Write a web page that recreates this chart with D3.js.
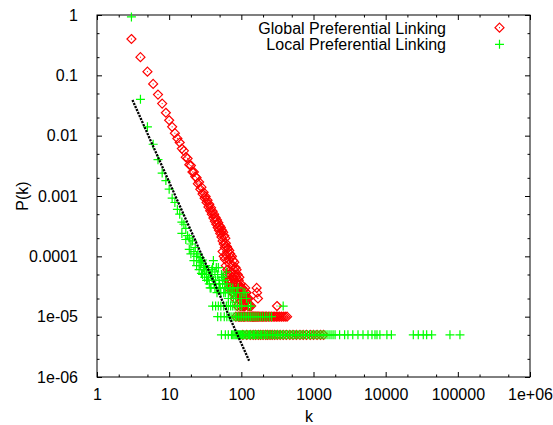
<!DOCTYPE html>
<html>
<head>
<meta charset="utf-8">
<script src="https://cdn.jsdelivr.net/npm/d3@7"></script>
<style>
body { margin: 0; background: #fff; }
text { font-family: "Liberation Sans", Arial, Helvetica, sans-serif; font-size: 16px; fill: #000; }
</style>
</head>
<body>
<script>
// axis ticks
const xMajor = [1, 10, 100, 1000, 10000, 100000, 1000000];
const xLabels = ["1", "10", "100", "1000", "10000", "100000", "1e+06"];
const xMinor = [2, 5, 20, 50, 200, 500, 2000, 5000, 20000, 50000, 200000, 500000];
const yMajor = [1, 0.1, 0.01, 0.001, 0.0001, 0.00001, 0.000001];
const yLabels = ["1", "0.1", "0.01", "0.001", "0.0001", "1e-05", "1e-06"];
const yMinor = [0.5, 0.2, 0.05, 0.02, 0.005, 0.002, 0.0005, 0.0002, 0.00005, 0.00002, 0.000005, 0.000002];

const seriesNames = ["Global Preferential Linking", "Local Preferential Linking"];

// Global Preferential Linking: [k, P(k)]
const globalPoints = [
    [3, 0.40], [4, 0.20], [5, 0.115], [6, 0.072], [7, 0.048], [8, 0.034], [9, 0.024], [10, 0.018],
    [11, 0.014], [12, 0.011], [13, 0.0090], [14, 0.0077], [15, 0.0061], [16, 0.0056], [17, 0.0044],
    [18, 0.0042], [19, 0.0033], [20, 0.0032], [21, 0.0025], [22, 0.0025], [23, 0.0021], [24, 0.0020],
    [25, 0.0016], [26, 0.0017], [27, 0.0013], [28, 0.0014], [29, 0.00108], [30, 0.00115], [31, 0.00092],
    [32, 0.00098], [33, 0.00078], [34, 0.00085], [35, 0.00066], [36, 0.00073], [37, 0.00057], [38, 0.00064],
    [39, 0.00050], [40, 0.00056], [41, 0.00043], [42, 0.00050], [43, 0.00038], [44, 0.00044], [45, 0.00034],
    [46, 0.00040], [47, 0.00030], [48, 0.00036], [49, 0.00027], [50, 0.00032], [51, 0.00024], [52, 0.00030],
    [53, 0.00021], [54, 0.00027], [55, 0.00018], [56, 0.00025], [57, 0.00016], [58, 0.00022], [59, 0.00014],
    [60, 0.00020], [61, 0.000165], [62, 0.000105], [63, 0.000145], [64, 0.00006], [65, 0.000135], [66, 0.00009],
    [67, 0.00004], [68, 0.000125], [69, 0.000075], [70, 0.00011], [71, 0.00003], [72, 0.000095], [73, 0.000055],
    [74, 0.0001], [75, 0.000025], [76, 0.00007], [77, 0.000085], [78, 0.000035], [79, 0.00006], [80, 0.00008],
    [81, 0.00002], [82, 0.00005], [83, 0.000065], [84, 0.00001], [85, 0.000045], [86, 0.00006], [87, 0.000025],
    [88, 0.000015], [89, 0.00005], [90, 0.000035], [91, 0.00001], [92, 0.00004], [93, 0.00002], [94, 0.000045],
    [95, 0.00001], [96, 0.00003], [97, 0.000015], [98, 0.000035], [99, 0.00001], [100, 0.000025], [101, 0.00002],
    [102, 0.00001], [103, 0.00003], [104, 0.000015], [105, 0.000005], [106, 0.00002], [107, 0.00001], [108, 0.000025],
    [109, 0.000015], [110, 0.00001], [112, 0.000015], [113, 0.00003], [115, 0.00002], [118, 0.000025], [121, 0.00002],
    [124, 0.000015], [126, 0.00002], [131, 0.000015], [137, 0.000015], [163, 0.00003], [165, 0.000025],
    [170, 0.00002], [312, 0.000015],
    // second cloud of readings, lower edge of the red band
    [55, 0.00012], [57, 0.0001], [59, 0.00009], [61, 0.00007], [63, 0.00005], [65, 0.00004], [66, 0.00003],
    [68, 0.00005], [70, 0.000035], [72, 0.00004], [74, 0.00003], [76, 0.000045], [78, 0.000025], [80, 0.00004],
    [83, 0.00003], [86, 0.000035], [90, 0.000025], [93, 0.00003], [97, 0.000025], [100, 0.00003], [104, 0.00002],
    [110, 0.00002], [116, 0.000025]
];
// Global: degrees seen only once or twice
const globalRow10K = [116, 123, 128, 134, 140, 143, 147, 151, 156, 161, 167, 174, 181, 188, 196, 205, 214, 224,
    236, 249, 262, 276, 291, 306, 322, 340, 360, 382, 405, 430];
const globalRow5K = [119, 133, 146, 158, 172, 185, 200, 218, 232, 250, 268, 290, 315, 345, 380, 420, 470, 520,
    580, 650, 720, 800, 900, 1000, 1120, 1250, 1380];

// Local Preferential Linking: [k, P(k)]
const localPoints = [
    [3, 0.93], [4, 0.040], [5, 0.014], [6, 0.0072], [7, 0.0040], [8, 0.0024], [9, 0.0018], [10, 0.0013],
    [11, 0.00092], [12, 0.00078], [13, 0.00060], [14, 0.00050], [15, 0.00037], [15, 0.00024], [16, 0.00034],
    [17, 0.00029], [17, 0.00019], [18, 0.00022], [19, 0.00020], [19, 0.00013], [20, 0.00016], [20, 0.00011],
    [21, 0.00018], [22, 0.00012], [22, 0.000085], [23, 0.00014], [24, 0.00010], [24, 0.00007], [25, 0.00011],
    [26, 0.000085], [26, 0.00006], [27, 0.000095], [28, 0.000052], [28, 0.00008], [29, 0.000087], [30, 0.000065],
    [31, 0.000045], [32, 0.00007], [33, 0.000055], [34, 0.00004], [35, 0.00006], [36, 0.000035], [37, 0.00005],
    [38, 0.00003], [39, 0.000045], [40, 0.000065], [41, 0.000085], [42, 0.000035], [43, 0.00003], [44, 0.00004],
    [45, 0.000065], [46, 0.000025], [48, 0.000065], [49, 0.00003], [50, 0.000035], [52, 0.000025], [54, 0.000045],
    [56, 0.000045], [57, 0.000025], [59, 0.00003], [62, 0.000055], [63, 0.000035], [66, 0.00002], [70, 0.00003],
    [74, 0.000025], [78, 0.00002], [86, 0.000025], [95, 0.00002], [106, 0.000025], [112, 0.000025],
    [27, 0.00007], [29, 0.00005], [31, 0.00006], [33, 0.00004], [35, 0.000045], [37, 0.00003], [39, 0.00006],
    [41, 0.00004], [43, 0.000055], [45, 0.00003], [47, 0.00005], [49, 0.00004], [51, 0.00003], [53, 0.00005],
    [55, 0.000035], [58, 0.00004], [60, 0.000025], [64, 0.00003], [67, 0.000025], [72, 0.00002], [76, 0.00003],
    [80, 0.000025], [84, 0.00002], [90, 0.00003], [100, 0.00002], [118, 0.00002], [125, 0.000015], [135, 0.000015]
];
const localRow15K = [40, 44, 48, 52, 57, 62, 66, 71, 76, 82, 88, 95, 101, 380];
const localRow10K = [47, 52, 58, 63, 68, 72, 77, 82, 86, 91, 96, 101, 107, 113, 119, 126, 133, 141, 150, 160,
    171, 183, 196, 210, 226, 244, 262];
const localRow5K = [53, 60, 66, 73, 76, 79, 82, 85, 88, 91, 94, 97, 100, 104, 108, 112, 116, 120, 125, 130, 135,
    141, 147, 153, 160, 167, 175, 183, 191, 200, 210, 220, 231, 243, 256, 270, 285, 300, 316, 333, 351, 370, 390,
    412, 435, 460, 487, 515, 545, 578, 612, 650, 690, 732, 778, 826, 878, 933, 992, 1055, 1122, 1195, 1272, 1355,
    1445, 1540, 1642, 1750, 1866, 1990, 2300, 2700, 3000, 3500, 4130, 4850, 5690, 6460, 7110, 7580, 8320, 10400,
    12000, 24150, 28300, 33200, 37000, 43400, 77800, 107000];
const rowLevels = [0.000015, 0.00001, 0.000005];

// power law guide line (ends)
const fitK = [3.1, 128];
const fitP = [0.039, 0.00000186];

const w = 553, h = 425;
const padL = 97, padR = 530, padT = 15, padB = 377;

const svg = d3.select("body").append("svg")
    .attr("width", w)
    .attr("height", h);

const xScale = d3.scaleLog().domain([1, 1e6]).range([padL, padR]);
const yScale = d3.scaleLog().domain([1e-6, 1]).range([padB, padT]);

var noDomain = g => g.select(".domain").remove();

// major + minor ticks, mirrored on all four sides
svg.append("g")
    .attr("transform", "translate(0," + padB + ")")
    .call(d3.axisBottom(xScale).tickValues(xMajor).tickFormat((d, i) => xLabels[i])
        .tickSizeInner(-5).tickSizeOuter(0).tickPadding(12))
    .call(noDomain);
svg.append("g")
    .attr("transform", "translate(0," + padB + ")")
    .call(d3.axisBottom(xScale).tickValues(xMinor).tickFormat("").tickSizeInner(-2.5).tickSizeOuter(0))
    .call(noDomain);
svg.append("g")
    .attr("transform", "translate(0," + padT + ")")
    .call(d3.axisTop(xScale).tickValues(xMajor).tickFormat("").tickSizeInner(-5).tickSizeOuter(0))
    .call(noDomain);
svg.append("g")
    .attr("transform", "translate(0," + padT + ")")
    .call(d3.axisTop(xScale).tickValues(xMinor).tickFormat("").tickSizeInner(-2.5).tickSizeOuter(0))
    .call(noDomain);

svg.append("g")
    .attr("transform", "translate(" + padL + ",0)")
    .call(d3.axisLeft(yScale).tickValues(yMajor).tickFormat((d, i) => yLabels[i])
        .tickSizeInner(-5).tickSizeOuter(0).tickPadding(19))
    .call(noDomain);
svg.append("g")
    .attr("transform", "translate(" + padL + ",0)")
    .call(d3.axisLeft(yScale).tickValues(yMinor).tickFormat("").tickSizeInner(-2.5).tickSizeOuter(0))
    .call(noDomain);
svg.append("g")
    .attr("transform", "translate(" + padR + ",0)")
    .call(d3.axisRight(yScale).tickValues(yMajor).tickFormat("").tickSizeInner(-5).tickSizeOuter(0))
    .call(noDomain);
svg.append("g")
    .attr("transform", "translate(" + padR + ",0)")
    .call(d3.axisRight(yScale).tickValues(yMinor).tickFormat("").tickSizeInner(-2.5).tickSizeOuter(0))
    .call(noDomain);

svg.selectAll("g").attr("font-size", null).attr("font-family", null);

svg.append("rect")
    .attr("x", padL).attr("y", padT)
    .attr("width", padR - padL).attr("height", padB - padT)
    .attr("fill", "none").attr("stroke", "#000").attr("stroke-width", 1);

// axis titles
svg.append("text")
    .attr("x", 309).attr("y", 422)
    .attr("text-anchor", "middle")
    .text("k");
svg.append("text")
    .attr("transform", "translate(28,196) rotate(-90)")
    .attr("text-anchor", "middle")
    .text("P(k)");

const diamond = "M0,-4.5L4.5,0L0,4.5L-4.5,0Z";
const plus = "M-4.5,0H4.5M0,-4.5V4.5";

var drawDiamonds = function (g, data) {
    var m = g.selectAll("g.pt").data(data).join("g")
        .attr("class", "pt")
        .attr("transform", d => "translate(" + xScale(d[0]) + "," + yScale(d[1]) + ")");
    m.append("path").attr("d", diamond).attr("fill", "none").attr("stroke", "#ff0000").attr("stroke-width", 1.2);
    m.append("rect").attr("x", -0.5).attr("y", -0.5).attr("width", 1).attr("height", 1).attr("fill", "#ff0000");
}

var drawPluses = function (g, data) {
    g.selectAll("path").data(data).join("path")
        .attr("transform", d => "translate(" + xScale(d[0]) + "," + yScale(d[1]) + ")")
        .attr("d", plus).attr("fill", "none").attr("stroke", "#00ff00").attr("stroke-width", 1.2);
}

var globalAll = globalPoints
    .concat(globalRow10K.map(k => [k, rowLevels[1]]))
    .concat(globalRow5K.map(k => [k, rowLevels[2]]));
var localAll = localPoints
    .concat(localRow15K.map(k => [k, rowLevels[0]]))
    .concat(localRow10K.map(k => [k, rowLevels[1]]))
    .concat(localRow5K.map(k => [k, rowLevels[2]]));

drawDiamonds(svg.append("g"), globalAll);
drawPluses(svg.append("g"), localAll);

// dotted guide line
svg.append("path")
    .datum(fitK.map((k, i) => [k, fitP[i]]))
    .attr("d", d3.line().x(d => xScale(d[0])).y(d => yScale(d[1])))
    .attr("fill", "none")
    .attr("stroke", "#000")
    .attr("stroke-width", 2.3)
    .attr("stroke-dasharray", "2.2,1.1");

// legend
svg.append("text").attr("x", 446).attr("y", 33.5).attr("text-anchor", "end").text(seriesNames[0]);
svg.append("text").attr("x", 446).attr("y", 50).attr("text-anchor", "end").text(seriesNames[1]);
drawDiamonds(svg.append("g"), [[xScale.invert(499.5), yScale.invert(27.7)]]);
drawPluses(svg.append("g"), [[xScale.invert(499.5), yScale.invert(44.3)]]);
</script>
</body>
</html>
